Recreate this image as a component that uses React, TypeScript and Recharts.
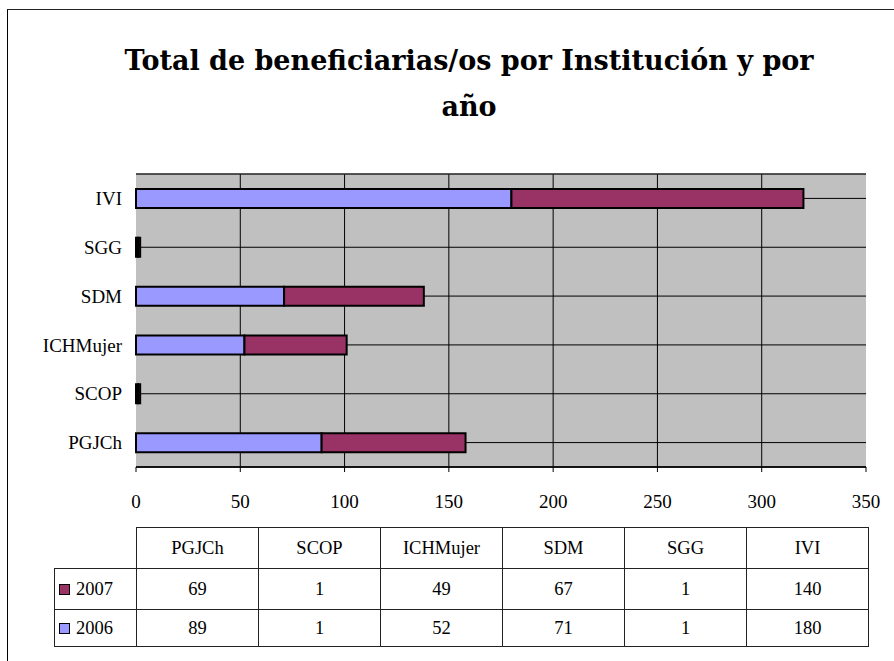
import { BarChart, Bar, XAxis, YAxis, CartesianGrid, ReferenceArea } from 'recharts';

const INSTITUTIONS = ['PGJCh', 'SCOP', 'ICHMujer', 'SDM', 'SGG', 'IVI'];
const VALUES_2006 = [89, 1, 52, 71, 1, 180];
const VALUES_2007 = [69, 1, 49, 67, 1, 140];
const X_TICKS = [0, 50, 100, 150, 200, 250, 300, 350];
const BAND_TICKS = [0, 1, 2, 3, 4, 5, 6];

const COLORS = { y2006: '#9999FF', y2007: '#993366' };
const FONT = '"Liberation Serif", "DejaVu Serif", serif';
const TITLE_FONT = '"DejaVu Serif", serif';

const chartData = INSTITUTIONS.map((name, i) => ({
  name,
  '2006': VALUES_2006[i],
  '2007': VALUES_2007[i],
}));

// inner vertical gridlines only, the plot edge gets the gray border
const innerX = X_TICKS.filter((v) => v > 0 && v < 350);

const cell: React.CSSProperties = {
  border: '1px solid #222',
  textAlign: 'center',
  padding: 0,
};

function Key({ color }: { color: string }) {
  return (
    <span
      style={{
        display: 'inline-block',
        width: 9,
        height: 9,
        background: color,
        border: '1.5px solid #000',
        marginRight: 6,
        verticalAlign: 'middle',
        position: 'relative',
        top: -1,
      }}
    />
  );
}

export default function App() {
  const rows = [
    { label: '2007', color: COLORS.y2007, values: VALUES_2007 },
    { label: '2006', color: COLORS.y2006, values: VALUES_2006 },
  ];

  return (
    <div style={{ position: 'absolute', left: 0, top: 0, width: 894, height: 661, overflow: 'hidden', background: '#fff', fontFamily: FONT }}>
      <div style={{ position: 'absolute', left: 7, top: 9, width: 1000, height: 1000, borderLeft: '1.5px solid #000', borderTop: '1.5px solid #222' }} />
      <div
        style={{
          position: 'absolute',
          left: 0,
          top: 38,
          width: 938,
          textAlign: 'center',
          fontFamily: TITLE_FONT,
          fontSize: 27,
          fontWeight: 'bold',
          lineHeight: '46px',
          color: '#000',
        }}
      >
        Total de beneficiarias/os por Institución y por
        <br />
        año
      </div>

      <div style={{ position: 'absolute', left: 0, top: 0 }}>
        <BarChart
          width={894}
          height={527}
          data={chartData}
          layout="vertical"
          margin={{ top: 174, right: 28, bottom: 0, left: 0 }}
          barSize={19}
        >
          <CartesianGrid yAxisId="cat" fill="#C0C0C0" stroke="#000" strokeWidth={1} verticalValues={innerX} />
          <CartesianGrid yAxisId="band" vertical={false} stroke="#333" strokeWidth={1} />
          <ReferenceArea yAxisId="band" x1={0} x2={350} y1={0} y2={6} fill="none" stroke="#808080" strokeWidth={2} />
          <YAxis
            yAxisId="band"
            type="number"
            domain={[0, 6]}
            ticks={BAND_TICKS}
            tick={false}
            width={0}
            axisLine={{ stroke: '#000', strokeWidth: 1.5 }}
            tickLine={{ stroke: '#000' }}
            tickSize={5}
          />
          <YAxis
            yAxisId="cat"
            type="category"
            dataKey="name"
            reversed
            width={136}
            axisLine={false}
            tickLine={false}
            tickMargin={8}
            tick={{ fill: '#000', fontSize: 19, fontFamily: FONT }}
          />
          <XAxis
            type="number"
            domain={[0, 350]}
            ticks={X_TICKS}
            height={60}
            tickSize={5}
            tickMargin={23}
            axisLine={{ stroke: '#000', strokeWidth: 1.5 }}
            tickLine={{ stroke: '#000' }}
            tick={{ fill: '#000', fontSize: 19, fontFamily: FONT }}
          />
          <Bar yAxisId="cat" dataKey="2006" stackId="a" fill={COLORS.y2006} stroke="#000" strokeWidth={2} isAnimationActive={false} />
          <Bar yAxisId="cat" dataKey="2007" stackId="a" fill={COLORS.y2007} stroke="#000" strokeWidth={2} isAnimationActive={false} />
        </BarChart>
      </div>

      <table
        style={{
          position: 'absolute',
          left: 54,
          top: 527,
          width: 814,
          borderCollapse: 'collapse',
          fontFamily: FONT,
          fontSize: 18.5,
          color: '#000',
          tableLayout: 'fixed',
        }}
      >
        <colgroup>
          <col style={{ width: 82 }} />
          {INSTITUTIONS.map((name) => (
            <col key={name} style={{ width: 122 }} />
          ))}
        </colgroup>
        <tbody>
          <tr style={{ height: 41 }}>
            <td style={{ padding: 0, border: 'none' }} />
            {INSTITUTIONS.map((name) => (
              <td key={name} style={cell}>{name}</td>
            ))}
          </tr>
          {rows.map((row, r) => (
            <tr key={row.label} style={{ height: r === 0 ? 41 : 37 }}>
              <td style={{ ...cell, textAlign: 'left', paddingLeft: 4 }}>
                <Key color={row.color} />
                {row.label}
              </td>
              {row.values.map((v, i) => (
                <td key={INSTITUTIONS[i]} style={cell}>{v}</td>
              ))}
            </tr>
          ))}
        </tbody>
      </table>
    </div>
  );
}
